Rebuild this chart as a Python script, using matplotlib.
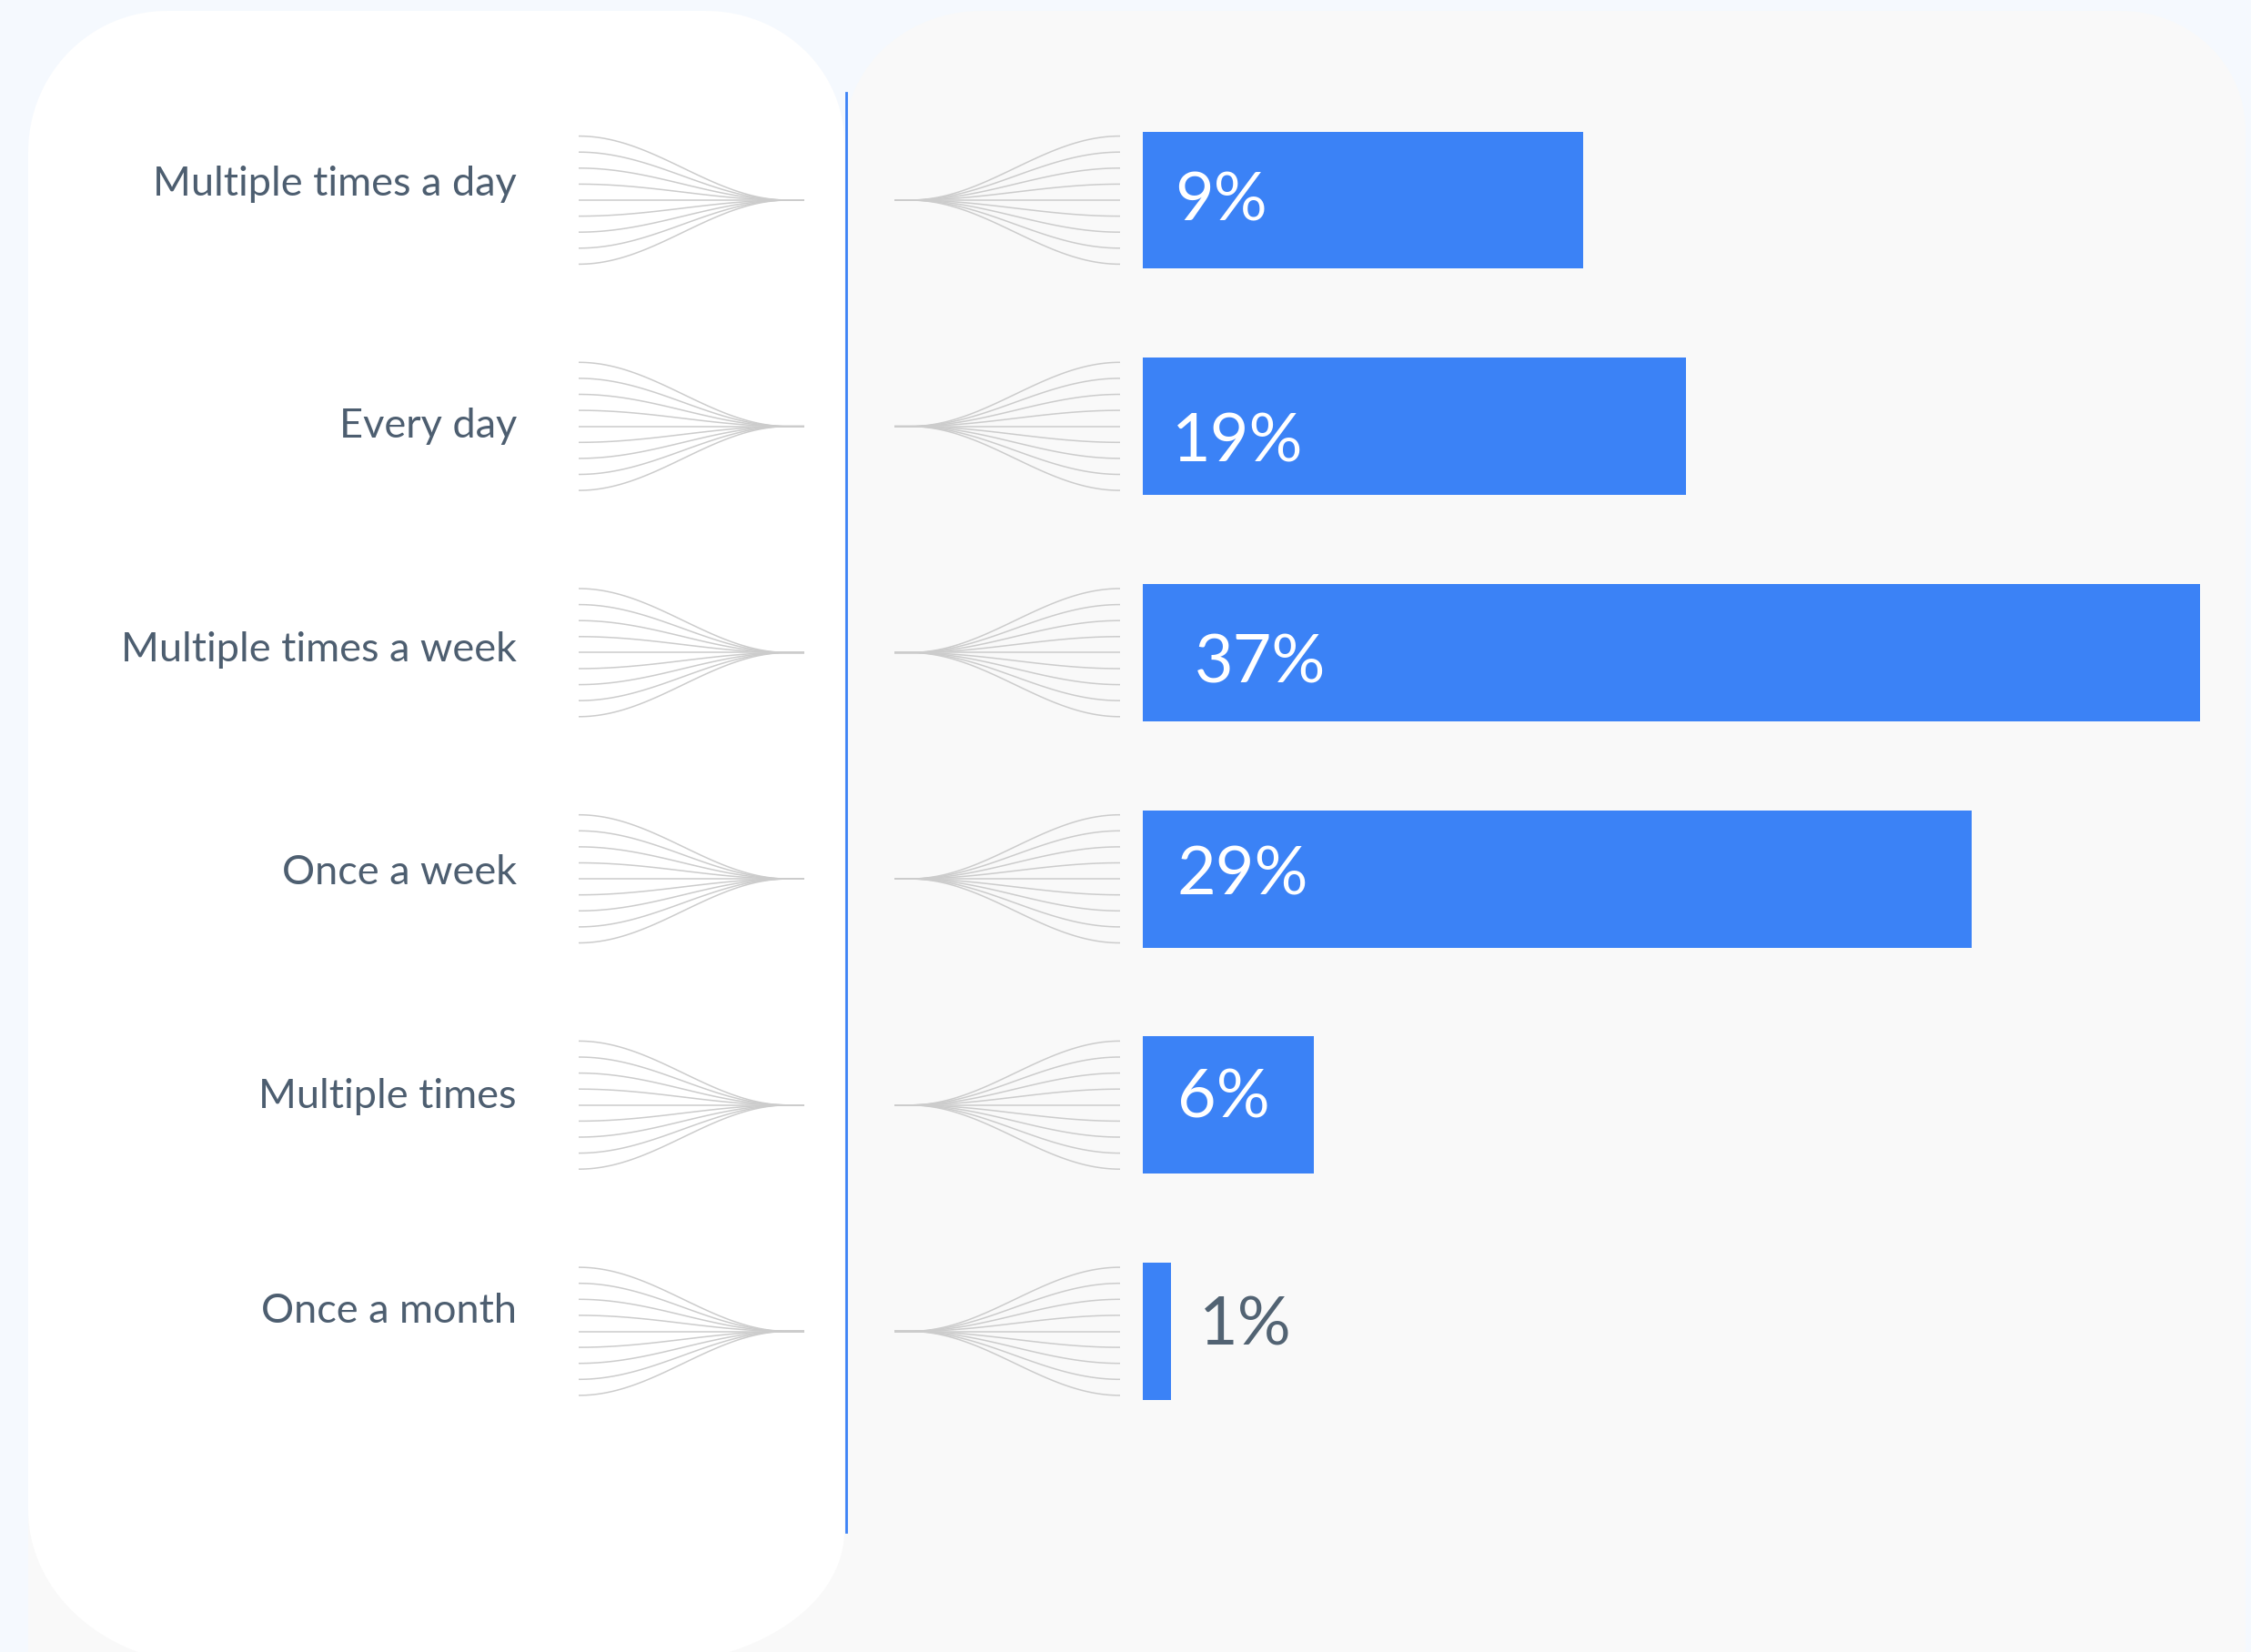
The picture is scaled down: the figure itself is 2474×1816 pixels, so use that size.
import numpy as np
import matplotlib.pyplot as plt
from matplotlib.patches import Polygon, Rectangle

# data
categories = ["Multiple times a day", "Every day", "Multiple times a week",
              "Once a week", "Multiple times", "Once a month"]
bar_lengths = [15.4, 19, 37, 29, 6, 1]     # drawn bar length
pct_labels = ["9%", "19%", "37%", "29%", "6%", "1%"]

# layout (pixels of the 2474x1816 canvas, y going down)
W, H = 2474, 1816
ROW0, ROW_STEP = 220, 248.7
BAR_X0, BAR_X37 = 1256, 2418
FAN_STEP = 17.6
label_nudge = [-21.5, -4, -7, -11, -13, -26]
pct_dx = [0, -3, 22, 3, 3, 0]
pct_dy = [3, 19, 14, -2, -6, 0]

BLUE = "#3b82f6"
TEXT = "#4d5e70"
FAN = "#cccccc"

plt.rcParams["font.family"] = ["Lato", "DejaVu Sans"]


def panel(ax, x0, y0, x1, y1, radii, color, z):
    tl, tr, br, bl = radii
    pts = []
    for (cx, cy, rx, ry, a0) in [
        (x0 + tl[0], y0 + tl[1], tl[0], tl[1], np.pi),
        (x1 - tr[0], y0 + tr[1], tr[0], tr[1], 1.5 * np.pi),
        (x1 - br[0], y1 - br[1], br[0], br[1], 0.0),
        (x0 + bl[0], y1 - bl[1], bl[0], bl[1], 0.5 * np.pi),
    ]:
        a = np.linspace(a0, a0 + 0.5 * np.pi, 40)
        pts.append(np.column_stack([cx + rx * np.cos(a), cy + ry * np.sin(a)]))
    ax.add_patch(Polygon(np.vstack(pts), closed=True, facecolor=color,
                         edgecolor="none", zorder=z))


def fan(ax, x_wide, x_join, x_tip, yc):
    t = np.linspace(0, 1, 80)
    xs = x_wide + (x_join - x_wide) * t
    for k in range(-4, 5):
        ys = yc + k * FAN_STEP * (1 + np.cos(np.pi * t)) / 2
        ax.plot(np.r_[xs, x_tip], np.r_[ys, yc], color=FAN, lw=1.1,
                solid_capstyle="butt", zorder=3)


fig = plt.figure(figsize=(W / 100, H / 100), dpi=100)
fig.patch.set_facecolor("#f5f9fe")

bg = fig.add_axes([0, 0, 1, 1], zorder=0)
bg.set_xlim(0, W)
bg.set_ylim(H, 0)
bg.axis("off")

# panels
bg.add_patch(Rectangle((31, 1550), 900, 300, facecolor="#f9f9f9",
                       edgecolor="none", zorder=1))
panel(bg, 928, 12, 2468, 1960, [(150, 140), (137, 131), (10, 10), (1, 1)],
      "#f9f9f9", 1)
panel(bg, 31, 12, 928, 1830, [(152, 155), (152, 145), (220, 147), (200, 170)],
      "white", 2)

bg.plot([930, 930], [102, 1684], color=BLUE, lw=2.0, zorder=4)

for i, cat in enumerate(categories):
    yc = ROW0 + i * ROW_STEP
    fan(bg, 636, 866, 884, yc)
    fan(bg, 1231, 1000, 983, yc)
    bg.text(568, yc + label_nudge[i] + 16.5, cat, ha="right", va="baseline",
            fontsize=32.5, color=TEXT)

# bars
top = ROW0 - ROW_STEP / 2
bottom = ROW0 + (len(categories) - 0.5) * ROW_STEP
ax = fig.add_axes([BAR_X0 / W, 1 - bottom / H, (BAR_X37 - BAR_X0) / W,
                   (bottom - top) / H], zorder=5)
ax.patch.set_alpha(0)
ypos = np.arange(len(categories))
ax.barh(ypos, bar_lengths, height=0.607, color=BLUE)
ax.set_xlim(0, 37)
ax.set_ylim(len(categories) - 0.5, -0.5)
ax.axis("off")

px = 0.72  # points per pixel at dpi 100
for i, (v, lab) in enumerate(zip(bar_lengths, pct_labels)):
    if v > 3:
        ax.annotate(lab, xy=(0, i),
                    xytext=(25 + pct_dx[i] * px, -14 - pct_dy[i] * px),
                    textcoords="offset points", ha="left", va="baseline",
                    fontsize=53, color="white", annotation_clip=False)
    else:
        ax.annotate(lab, xy=(v, i),
                    xytext=(22 + pct_dx[i] * px, -11 - pct_dy[i] * px),
                    textcoords="offset points", ha="left", va="baseline",
                    fontsize=53, color="#526373", annotation_clip=False)

fig.savefig("out.png", dpi=100, facecolor=fig.get_facecolor())
